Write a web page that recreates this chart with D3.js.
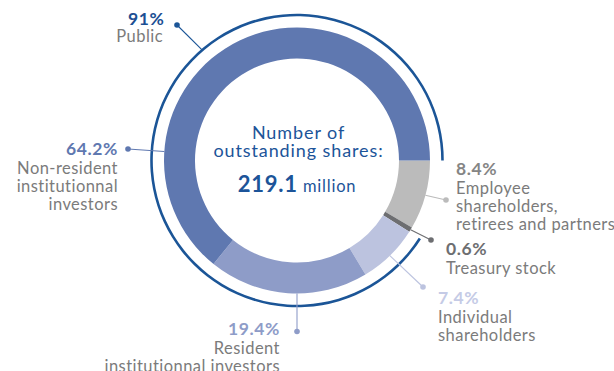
<!DOCTYPE html>
<html><head><meta charset="utf-8">
<script src="https://cdn.jsdelivr.net/npm/d3@7"></script>
<style>body{margin:0;background:#fff}svg{display:block}text{font-family:Lato,"Open Sans",sans-serif}</style>
</head><body><svg width="614" height="371"></svg>
<script>
const categories = ["Employee shareholders, retirees and partners","Treasury stock","Individual shareholders","Resident institutionnal investors","Non-resident institutionnal investors"];
const values = [8.4, 0.6, 7.4, 19.4, 64.2];
const pctLabels = ["8.4%","0.6%","7.4%","19.4%","64.2%"];
const descLabels = [["Employee","shareholders,","retirees and partners"],["Treasury stock"],["Individual","shareholders"],["Resident","institutionnal investors"],["Non-resident","institutionnal","investors"]];
const sliceColors = ["#bbbbbb","#6d6e71","#bcc3df","#8e9cc8","#5f78b0"];
const pctColors = ["#858585","#6d6e71","#c5cbe6","#8e9cc8","#5f78b0"];
const publicLabel = ["91%","Public"];
const publicIdx = [2,3,4];
const centerLines = ["Number of","outstanding shares:"];
const totalValue = "219.1";
const totalUnit = " million";

const svg = d3.select("svg");
const cx = 297, cy = 160.5, R = 133, r = 102, Rp = 145.5;
const g = svg.append("g").attr("transform",`translate(${cx},${cy})`);
const pie = d3.pie().sort(null).value(d=>d).startAngle(Math.PI/2).endAngle(Math.PI/2+2*Math.PI);
const arcs = pie(values);
const arc = d3.arc().innerRadius(r).outerRadius(R);
g.selectAll("path.s").data(arcs).join("path").attr("class","s")
  .attr("d",arc).attr("fill",(d,i)=>sliceColors[i]);

const pStart = arcs[publicIdx[0]].startAngle, pEnd = arcs[publicIdx[publicIdx.length-1]].endAngle;
g.append("path").attr("d",d3.arc().innerRadius(Rp-1.3).outerRadius(Rp+1.3).startAngle(pStart).endAngle(pEnd)())
  .attr("fill","#1b5597");

const pol = (a,rad)=>[rad*Math.sin(a), -rad*Math.cos(a)];
const deg = Math.PI/180;
const descSize = 16.5, descLS = 0.45, pctSize = 17.5, pctLS = 0.6;
const layout = [
  {a: (arcs[0].startAngle+arcs[0].endAngle)/2, rad:R, dot:[446,200], tx:456, ty:175, anchor:"start"},
  {a: (arcs[1].startAngle+arcs[1].endAngle)/2, rad:R, dot:[431,240], tx:446, ty:255, anchor:"start"},
  {a: (arcs[2].startAngle+arcs[2].endAngle)/2, rad:R, dot:[423,287], tx:438, ty:303.5, anchor:"start"},
  {a: 180*deg, rad:R, dot:[297,331.5], tx:280, ty:335, anchor:"end"},
  {a: 273.9*deg, rad:R, dot:[128,149], tx:118, ty:155, anchor:"end"}
];
layout.forEach((L,i)=>{
  const p = pol(L.a, L.rad);
  svg.append("line").attr("x1",cx+p[0]).attr("y1",cy+p[1]).attr("x2",L.dot[0]).attr("y2",L.dot[1])
    .attr("stroke",sliceColors[i]).attr("stroke-width",1.1);
  svg.append("circle").attr("cx",L.dot[0]).attr("cy",L.dot[1]).attr("r",2.8).attr("fill",i===4?"#5f78b0":sliceColors[i]);
  svg.append("text").attr("x",L.tx).attr("y",L.ty).attr("text-anchor",L.anchor).attr("letter-spacing",pctLS)
    .attr("font-size",pctSize).attr("font-weight",700).attr("fill",pctColors[i]).text(pctLabels[i]);
  descLabels[i].forEach((t,j)=>{
    svg.append("text").attr("x",L.tx).attr("y",L.ty+19+j*18).attr("text-anchor",L.anchor).attr("letter-spacing",descLS)
      .attr("font-size",descSize).attr("fill","#7b7b7b").text(t);
  });
});
{
  const p = pol(319.4*deg, Rp);
  svg.append("line").attr("x1",cx+p[0]).attr("y1",cy+p[1]).attr("x2",177).attr("y2",25)
    .attr("stroke","#1b5597").attr("stroke-width",1.1);
  svg.append("circle").attr("cx",177).attr("cy",25).attr("r",2.8).attr("fill","#1b5597");
  svg.append("text").attr("x",164.5).attr("y",25).attr("text-anchor","end").attr("font-size",pctSize).attr("letter-spacing",pctLS)
    .attr("font-weight",700).attr("fill","#1c4f93").text(publicLabel[0]);
  svg.append("text").attr("x",163).attr("y",42).attr("text-anchor","end").attr("font-size",descSize).attr("letter-spacing",descLS)
    .attr("fill","#7b7b7b").text(publicLabel[1]);
}
centerLines.forEach((t,j)=>{
  svg.append("text").attr("x",cx+1.5).attr("y",138.5+j*18.5).attr("text-anchor","middle").attr("letter-spacing",0.9)
    .attr("font-size",18).attr("fill","#1c5499").text(t);
});
const tt = svg.append("text").attr("x",cx).attr("y",192).attr("text-anchor","middle").attr("fill","#1c5499");
tt.append("tspan").attr("font-size",22).attr("font-weight",700).attr("letter-spacing",0.8).text(totalValue);
tt.append("tspan").attr("font-size",16.5).attr("letter-spacing",0.8).text(totalUnit);
</script></body></html>
